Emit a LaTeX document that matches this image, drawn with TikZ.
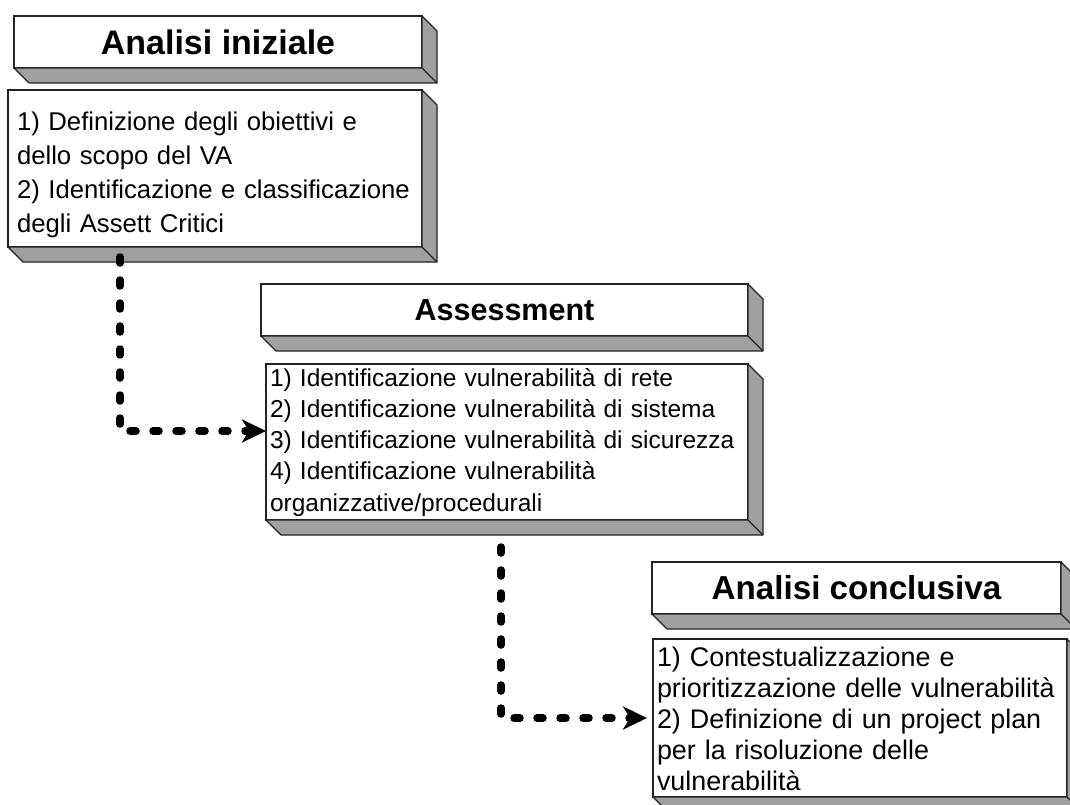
\documentclass[tikz,border=0pt]{standalone}
\usepackage{fontspec}
\setmainfont{Liberation Sans}
\usetikzlibrary{arrows.meta,calc}
\definecolor{sidegray}{RGB}{160,160,160}
\definecolor{edgecol}{RGB}{35,35,35}
\newcommand\boxsides[1]{%
  \filldraw[side] (#1.north east) -- ++(15,15) -- ($(#1.south east)+(15,15)$)
    -- ($(#1.south west)+(15,15)$) -- (#1.south west) -- (#1.south east) -- cycle;
  \draw[side] (#1.south east) -- ++(15,15);}
\begin{document}
\begin{tikzpicture}[x=1pt,y=-1pt,
  face/.style={draw=edgecol, fill=white, line width=1.2pt, inner sep=0pt, outer sep=0pt},
  titlebox/.style={face, minimum height=52pt, font=\fontsize{#1}{#1}\selectfont\bfseries},
  bodybox/.style={face, align=left, inner ysep=0pt},
  side/.style={draw=edgecol, fill=sidegray, line width=1.2pt, line join=round},
  conn/.style={line width=7.5pt, line cap=round, dash pattern=on 6pt off 17pt,
    -{Stealth[length=24pt,width=23pt,inset=7pt]}}]
\useasboundingbox (0,0) rectangle (1070,805);

% Box 1
\node[titlebox=34, minimum width=408pt] (t1) at (218,42) {Analisi iniziale};
\node[bodybox, minimum width=414pt, minimum height=157pt, inner xsep=9pt, text width=396pt,
  font=\fontsize{25.7}{34}\selectfont] (b1) at (215,168.5)
  {\rule{0pt}{41pt}\mbox{1) Definizione degli obiettivi e}\\\mbox{dello scopo del VA}\\\mbox{2) Identificazione e classificazione}\\\mbox{degli Assett Critici}\rule[-14pt]{0pt}{14pt}};
\boxsides{t1}
\boxsides{b1}

% Box 2
\node[titlebox=30.5, minimum width=487pt] (t2) at (504.5,310) {Assessment};
\node[bodybox, minimum width=482pt, minimum height=156pt, inner xsep=4pt, text width=474pt,
  font=\fontsize{24.5}{31.25}\selectfont] (b2) at (507,442)
  {\rule{0pt}{22pt}\mbox{1) Identificazione vulnerabilità di rete}\\\mbox{2) Identificazione vulnerabilità di sistema}\\\mbox{3) Identificazione vulnerabilità di sicurezza}\\\mbox{4) Identificazione vulnerabilità}\\\mbox{organizzative/procedurali}\rule[-9pt]{0pt}{9pt}};
\boxsides{t2}
\boxsides{b2}

% Box 3
\node[titlebox=33.2, minimum width=409pt] (t3) at (856.5,588) {Analisi conclusiva};
\node[bodybox, minimum width=414pt, minimum height=158pt, inner xsep=4pt, text width=406pt,
  font=\fontsize{26.9}{31}\selectfont] (b3) at (860,718)
  {\rule{0pt}{27pt}\mbox{1) Contestualizzazione e}\\\mbox{prioritizzazione delle vulnerabilità}\\\mbox{2) Definizione di un project plan}\\\mbox{per la risoluzione delle}\\\mbox{vulnerabilità}\rule[-7pt]{0pt}{7pt}};
\boxsides{t3}
\boxsides{b3}

% Connectors
\coordinate (c1) at (120,257);
\draw[conn] (c1) |- ([yshift=11pt]b2.west);
\coordinate (c2) at (501,547);
\draw[conn, shorten >=6pt] (c2) |- (b3.west);
\end{tikzpicture}
\end{document}
